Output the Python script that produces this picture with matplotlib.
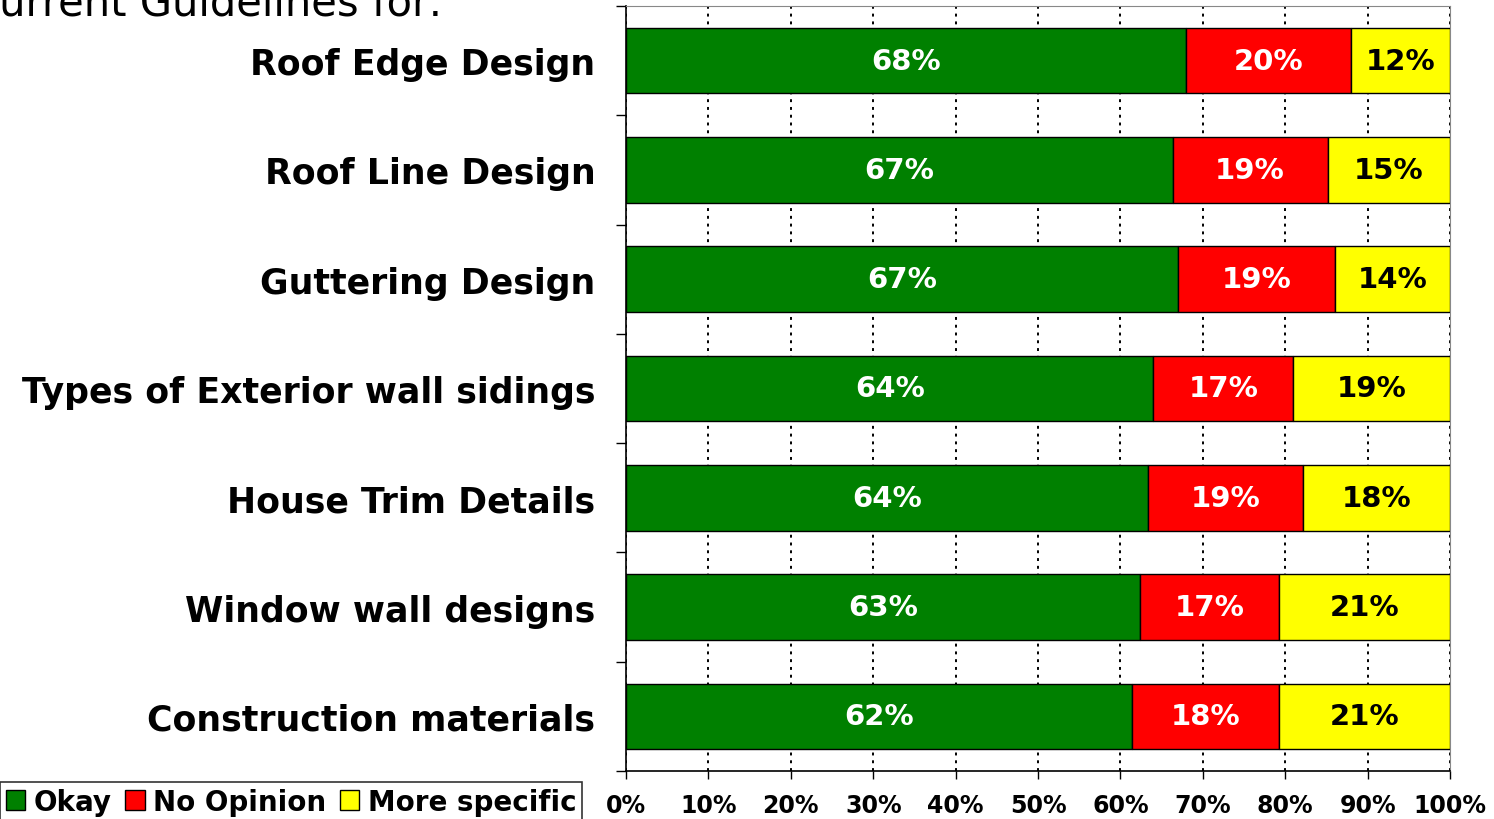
import matplotlib.pyplot as plt
import numpy as np
from matplotlib.patches import Patch

plt.rcParams.update({
    "font.family": "DejaVu Sans",
    "font.weight": "bold",
})

# Survey responses per guideline topic (percent, as reported)
categories = ["Roof Edge Design", "Roof Line Design", "Guttering Design",
              "Types of Exterior wall sidings", "House Trim Details",
              "Window wall designs", "Construction materials"]
okay = [68, 67, 67, 64, 64, 63, 62]
no_opinion = [20, 19, 19, 17, 19, 17, 18]
more_specific = [12, 15, 14, 19, 18, 21, 21]

series = [("Okay", okay, "#008000", "white"),
          ("No Opinion", no_opinion, "#FF0000", "white"),
          ("More specific", more_specific, "#FFFF00", "black")]

# 100% stacked: scale each row by its total
totals = np.array(okay) + np.array(no_opinion) + np.array(more_specific)

fig = plt.figure(figsize=(14.94, 8.2), dpi=100)
ax = fig.add_axes([626 / 1494, 1 - 772 / 820, 824 / 1494, 765 / 820])

y = np.arange(len(categories))
left = np.zeros(len(categories))
for name, vals, color, txt in series:
    vals = np.array(vals, dtype=float)
    widths = vals / totals * 100
    ax.barh(y, widths, left=left, height=0.6, color=color,
            edgecolor="black", linewidth=1, zorder=3, label=name)
    for yi, l, w, v in zip(y, left, widths, vals):
        ax.text(l + w / 2, yi, f"{v:.0f}%", ha="center", va="center",
                color=txt, fontsize=21, fontweight="bold", zorder=4)
    left += widths

ax.set_xlim(0, 100)
ax.set_ylim(len(categories) - 0.5, -0.5)
ax.set_xticks(np.arange(0, 101, 10))
ax.set_xticklabels([f"{t}%" for t in range(0, 101, 10)], fontsize=17, fontweight="bold")
ax.set_yticks(y)
ax.set_yticklabels(categories, fontsize=25, fontweight="bold")
ax.set_yticks(np.arange(-0.5, len(categories), 1), minor=True)
ax.tick_params(axis="y", which="major", length=0, pad=22)
ax.tick_params(axis="y", which="minor", length=7, width=1, color="black")
ax.tick_params(axis="x", length=6, width=1, pad=10)

ax.grid(axis="x", linestyle=(0, (1.5, 2.5)), color="black", linewidth=1.4, zorder=0)
ax.set_axisbelow(True)
for side in ("top", "right"):
    ax.spines[side].set_color("#888888")
for side in ("left", "bottom"):
    ax.spines[side].set_color("black")
    ax.spines[side].set_linewidth(1.2)

handles = [Patch(facecolor=c, edgecolor="black", label=n) for n, _, c, _ in series]
leg = fig.legend(handles=handles, loc="upper left", bbox_to_anchor=(0, 1 - 783 / 820),
                 ncol=3, frameon=True, fancybox=False, edgecolor="black",
                 prop={"weight": "bold", "size": 20},
                 handlelength=0.7, handleheight=0.7, handletextpad=0.3,
                 columnspacing=0.5, borderaxespad=0, borderpad=0.2)
leg.get_frame().set_linewidth(1.2)

fig.text(-0.02, 1 - 15 / 820, "Current Guidelines for:", fontsize=30, fontweight="normal",
         ha="left", va="baseline")

fig.savefig("out.png", dpi=100)
